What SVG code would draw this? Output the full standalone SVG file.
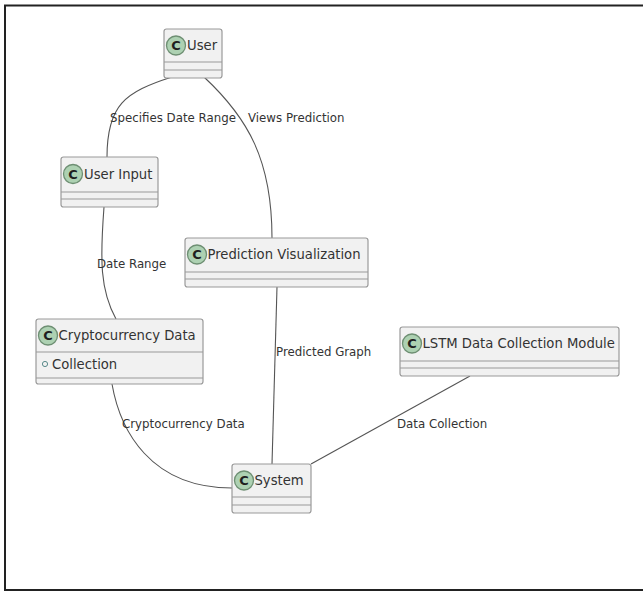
<svg xmlns="http://www.w3.org/2000/svg" width="643" height="592" viewBox="0 0 643 592">
<style>
.box{fill:#f1f1f1;stroke:#9a9a9a;stroke-width:1.2}
.sep{stroke:#9a9a9a;stroke-width:1.2}
.ci{fill:#add1b2;stroke:#6e8f73;stroke-width:1.3}
.cl{font-family:"DejaVu Sans",sans-serif;font-size:13px;font-weight:bold;fill:#1f1f1f;text-anchor:middle}
.nm{font-family:"DejaVu Sans",sans-serif;font-size:13.2px;fill:#333}
.lb{font-family:"DejaVu Sans",sans-serif;font-size:11.8px;fill:#333}
.ed{fill:none;stroke:#555;stroke-width:1.1}
</style>
<rect x="0" y="0" width="643" height="592" fill="#fff"/>
<rect x="5" y="5.5" width="660" height="584.5" fill="none" stroke="#222" stroke-width="2"/>
<g id="connectors">
<path class="ed" d="M172,77 C125,92 107,105 107,157"/>
<path class="ed" d="M204,77 C248,118 272,160 272,238"/>
<path class="ed" d="M104,207 C100,260 100,290 116,319"/>
<path class="ed" d="M112,384 C120,430 150,488 232,488"/>
<path class="ed" d="M277,287 L272,464"/>
<path class="ed" d="M470,376 L311,464"/>
<text class="lb" x="110" y="122">Specifies Date Range</text>
<text class="lb" x="248" y="122">Views Prediction</text>
<text class="lb" x="97" y="268">Date Range</text>
<text class="lb" x="276" y="356">Predicted Graph</text>
<text class="lb" x="122" y="428">Cryptocurrency Data</text>
<text class="lb" x="397" y="428">Data Collection</text>
</g>
<g id="user">
<rect class="box" x="164" y="29" width="58" height="49" rx="2.5"/>
<line class="sep" x1="164" y1="62" x2="222" y2="62"/>
<line class="sep" x1="164" y1="70" x2="222" y2="70"/>
<circle class="ci" cx="176" cy="45.5" r="9.5"/>
<text class="cl" x="176" y="50.2">C</text>
<text class="nm" x="187" y="50">User</text>
</g>
<g id="user-input">
<rect class="box" x="61" y="157" width="97" height="50" rx="2.5"/>
<line class="sep" x1="61" y1="192" x2="158" y2="192"/>
<line class="sep" x1="61" y1="199" x2="158" y2="199"/>
<circle class="ci" cx="73" cy="174" r="9.5"/>
<text class="cl" x="73" y="178.7">C</text>
<text class="nm" x="84" y="179">User Input</text>
</g>
<g id="crypto-data">
<rect class="box" x="36" y="319" width="167" height="65" rx="2.5"/>
<line class="sep" x1="36" y1="352" x2="203" y2="352"/>
<line class="sep" x1="36" y1="378" x2="203" y2="378"/>
<circle class="ci" cx="48" cy="335.5" r="9.5"/>
<text class="cl" x="48" y="340.2">C</text>
<text class="nm" x="58.5" y="340">Cryptocurrency Data</text>
<circle cx="45" cy="364" r="2.6" fill="none" stroke="#5a8a8a" stroke-width="1"/>
<text class="nm" x="52" y="369">Collection</text>
</g>
<g id="prediction-visualization">
<rect class="box" x="185" y="238" width="183" height="49" rx="2.5"/>
<line class="sep" x1="185" y1="272" x2="368" y2="272"/>
<line class="sep" x1="185" y1="279" x2="368" y2="279"/>
<circle class="ci" cx="197" cy="254.5" r="9.5"/>
<text class="cl" x="197" y="259.2">C</text>
<text class="nm" x="207.5" y="259">Prediction Visualization</text>
</g>
<g id="lstm">
<rect class="box" x="400" y="327" width="219" height="49" rx="2.5"/>
<line class="sep" x1="400" y1="361" x2="619" y2="361"/>
<line class="sep" x1="400" y1="368" x2="619" y2="368"/>
<circle class="ci" cx="412" cy="343.5" r="9.5"/>
<text class="cl" x="412" y="348.2">C</text>
<text class="nm" x="422.5" y="348">LSTM Data Collection Module</text>
</g>
<g id="system">
<rect class="box" x="232" y="464" width="79" height="49" rx="2.5"/>
<line class="sep" x1="232" y1="497" x2="311" y2="497"/>
<line class="sep" x1="232" y1="505" x2="311" y2="505"/>
<circle class="ci" cx="244" cy="480.5" r="9.5"/>
<text class="cl" x="244" y="485.2">C</text>
<text class="nm" x="254.5" y="485">System</text>
</g>
</svg>
